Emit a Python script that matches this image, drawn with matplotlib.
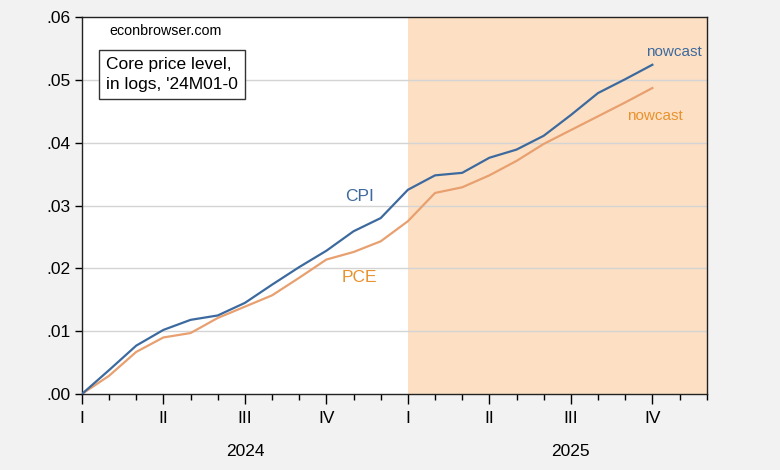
import matplotlib
matplotlib.use("Agg")
import matplotlib.pyplot as plt
from matplotlib.ticker import FixedLocator

plt.rcParams['font.family'] = ['Liberation Sans', 'DejaVu Sans']

# months since 2024M01
months = list(range(22))
cpi = [0.0, 0.0038, 0.0077, 0.0102, 0.0118, 0.0125, 0.0145, 0.0174, 0.0202, 0.0228,
       0.0259, 0.0280, 0.0325, 0.0348, 0.0352, 0.0376, 0.0389, 0.0411, 0.0444, 0.0479,
       0.0501, 0.0524]
pce = [0.0, 0.0029, 0.0067, 0.0090, 0.0097, 0.0121, 0.0139, 0.0157, 0.0185, 0.0214,
       0.0226, 0.0243, 0.0275, 0.0320, 0.0329, 0.0348, 0.0371, 0.0398, 0.0420, 0.0442,
       0.0464, 0.0487]
quarter_labels = ['I', 'II', 'III', 'IV', 'I', 'II', 'III', 'IV']
years = ['2024', '2025']
shade_start = 12

blue = '#3d6a9e'
orange = '#e8a070'
orange_txt = '#e8922e'

fig = plt.figure(figsize=(7.8, 4.7), dpi=100, facecolor='#f2f2f2')
ax = fig.add_axes([0.105, 0.1617, 0.801, 0.8021])
ax.set_facecolor('white')

ax.axvspan(shade_start, 23, color='#fde0c3', zorder=0, lw=0)
for y in [0.01, 0.02, 0.03, 0.04, 0.05]:
    ax.axhline(y, color='#d4d4d4', lw=1, zorder=1)

ax.plot(months, cpi, color=blue, lw=1.6, zorder=3)
ax.plot(months, pce, color=orange, lw=1.6, zorder=2)

ax.set_xlim(0, 23)
ax.set_ylim(0, 0.06)
ax.set_yticks([0, 0.01, 0.02, 0.03, 0.04, 0.05, 0.06])
ax.set_yticklabels(['.00', '.01', '.02', '.03', '.04', '.05', '.06'])

ax.xaxis.set_major_locator(FixedLocator([0, 3, 6, 9, 12, 15, 18, 21]))
ax.xaxis.set_minor_locator(FixedLocator(list(range(24))))
ax.set_xticklabels(quarter_labels)
ax.tick_params(axis='x', which='major', length=7, width=1, direction='out', pad=5, labelsize=12.5)
ax.tick_params(axis='x', which='minor', length=4, width=1, direction='out')
ax.tick_params(axis='y', length=5, width=1, direction='out', labelsize=12.5, pad=3)
for s in ax.spines.values():
    s.set_color('#222222')
    s.set_linewidth(1)

for i, yr in enumerate(years):
    ax.text(6 + 12 * i, -0.0091, yr, ha='center', va='center', fontsize=12.5,
            clip_on=False)

ax.text(1.0, 0.0578, 'econbrowser.com', fontsize=10.3, va='center', ha='left')
ax.text(0.88, 0.0509, "Core price level,\nin logs, '24M01-0", fontsize=12.5, va='center', ha='left',
        linespacing=1.4,
        bbox=dict(boxstyle='square,pad=0.4', fc='white', ec='#333333', lw=1))

ax.text(9.7, 0.0315, 'CPI', color=blue, fontsize=12.5, ha='left', va='center')
ax.text(9.55, 0.0185, 'PCE', color=orange_txt, fontsize=12.5, ha='left', va='center')
ax.text(21.8, 0.0545, 'nowcast', color=blue, fontsize=11, ha='center', va='center')
ax.text(21.1, 0.0443, 'nowcast', color=orange_txt, fontsize=11, ha='center', va='center')

fig.savefig('out.png', dpi=100, facecolor=fig.get_facecolor())
